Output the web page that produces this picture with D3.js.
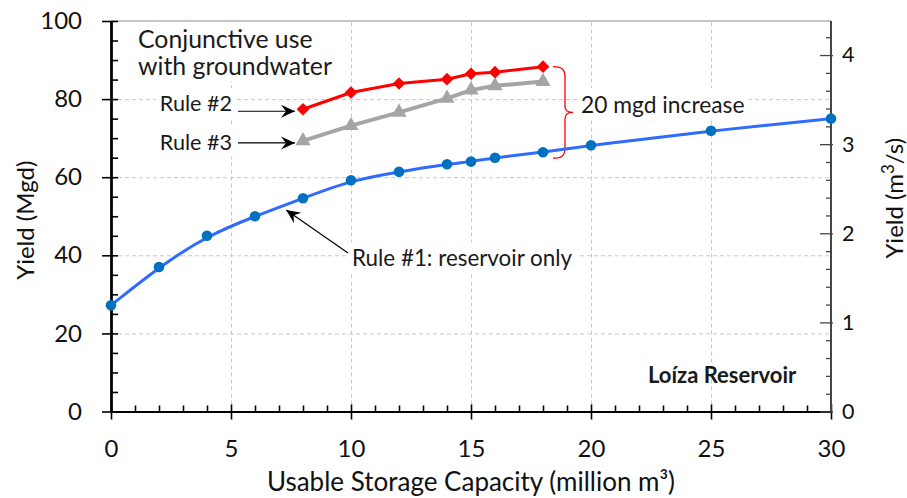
<!DOCTYPE html>
<html>
<head>
<meta charset="utf-8">
<script src="https://cdn.jsdelivr.net/npm/d3@7"></script>
<style>
  body { margin: 0; background: #fff; }
  svg { display: block; font-family: Lato, sans-serif; }
</style>
</head>
<body>
<svg id="chart" width="907" height="498"></svg>
<script>
// data
const capacity = [0, 2, 4, 6, 8, 10, 12, 14, 15, 16, 18, 20, 25, 30];
const rule1Yield = [27.2, 37.0, 45.0, 50.0, 54.6, 59.2, 61.4, 63.3, 64.0, 65.0, 66.4, 68.2, 71.9, 75.0];
const conjCapacity = [8, 10, 12, 14, 15, 16, 18];
const rule2Yield = [77.4, 81.7, 84.0, 85.1, 86.5, 86.9, 88.3];
const rule3Yield = [69.3, 73.2, 76.6, 80.2, 82.3, 83.4, 84.5];
const xTicks = [0, 5, 10, 15, 20, 25, 30];
const yTicks = [0, 20, 40, 60, 80, 100];
const yRightTicks = [0, 1, 2, 3, 4];
const MGD_PER_CMS = 22.82;

const svg = d3.select("#chart");
const plotLeft = 111, plotRight = 831, plotTop = 21, plotBottom = 411.5;

const x = d3.scaleLinear().domain([0, 30]).range([plotLeft, plotRight]);
const y = d3.scaleLinear().domain([0, 100]).range([plotBottom, plotTop]);
const yR = d3.scaleLinear().domain([0, 100 / MGD_PER_CMS]).range([plotBottom, plotTop]);

const xMinor = d3.range(0, 31).filter(v => v % 5 !== 0);
const yMinor = d3.range(0, 101, 5).filter(v => v % 20 !== 0);
const yRMinor = d3.range(0, 4.4, 0.2).filter(v => Math.abs(v - Math.round(v)) > 0.01);

// gridlines
const grid = svg.append("g").attr("class", "grid");
grid.append("g")
    .attr("transform", `translate(0,${plotBottom})`)
    .call(d3.axisBottom(x).tickValues([5, 10, 15, 20, 25]).tickSize(-(plotBottom - plotTop)).tickFormat(""));
grid.append("g")
    .attr("transform", `translate(${plotLeft},0)`)
    .call(d3.axisLeft(y).tickValues([20, 40, 60, 80]).tickSize(-(plotRight - plotLeft)).tickFormat(""));
grid.selectAll(".domain").remove();
grid.selectAll("line")
    .attr("stroke", "#c8c8c8")
    .attr("stroke-width", 1)
    .attr("stroke-dasharray", "4,3");

// top frame
svg.append("line")
    .attr("x1", plotLeft).attr("x2", plotRight)
    .attr("y1", y(100)).attr("y2", y(100))
    .attr("stroke", "#8c8c8c").attr("stroke-width", 1.2);

// arrow marker
const defs = svg.append("defs");
defs.append("marker")
    .attr("id", "arrow")
    .attr("viewBox", "-14 -7 16 14")
    .attr("refX", 0).attr("refY", 0)
    .attr("markerWidth", 16).attr("markerHeight", 14)
    .attr("markerUnits", "userSpaceOnUse")
    .attr("orient", "auto")
    .append("path")
    .attr("d", "M0,0 L-14,-6.5 L-9,0 L-14,6.5 Z")
    .attr("fill", "#000");

// text label with white box behind it (hides the gridlines like the original)
function label(g, tx, ty, lines, opts) {
    const t = g.append("text")
        .attr("x", tx).attr("y", ty)
        .attr("font-size", opts.size)
        .attr("font-weight", opts.weight || "normal")
        .attr("text-anchor", opts.anchor || "start")
        .attr("fill", "#1a1a1a");
    lines.forEach((s, i) => {
        t.append("tspan").attr("x", tx).attr("dy", i === 0 ? 0 : opts.lineHeight).text(s);
    });
    if (opts.box) {
        const b = t.node().getBBox();
        g.insert("rect", "text")
            .attr("x", b.x - 4).attr("y", b.y - 2)
            .attr("width", b.width + 8).attr("height", b.height + 4)
            .attr("fill", "#fff");
    }
    return t;
}

const notes = svg.append("g");
label(notes.append("g"), 138, 48, ["Conjunctive use", "with groundwater"], { size: 24.8, lineHeight: 26.5, box: true });
label(notes.append("g"), 232, 111, ["Rule #2"], { size: 21.6, anchor: "end", box: true });
label(notes.append("g"), 232, 150, ["Rule #3"], { size: 21.6, anchor: "end", box: true });
label(notes.append("g"), 352, 266, ["Rule #1: reservoir only"], { size: 22.4, box: true });
label(notes.append("g"), 581, 113, ["20 mgd increase"], { size: 22.8, box: true });
label(notes.append("g"), 648, 383, ["Loíza Reservoir"], { size: 22, weight: "bold" });

// arrows
const arrows = [
    [238, y(rule2Yield[0]) + 2, x(conjCapacity[0]) - 8, y(rule2Yield[0]) + 2],
    [238, y(rule3Yield[0]) + 2, x(conjCapacity[0]) - 8, y(rule3Yield[0]) + 2],
    [348, 253, x(7.3), y(51.6)]
];
svg.append("g").selectAll("line").data(arrows).join("line")
    .attr("x1", d => d[0]).attr("y1", d => d[1])
    .attr("x2", d => d[2]).attr("y2", d => d[3])
    .attr("stroke", "#000").attr("stroke-width", 1.2)
    .attr("marker-end", "url(#arrow)");

// red brace between rule #2 and rule #1 at 18 million m3
const bx = x(18) + 10, bTop = y(rule2Yield[6]), bBot = y(rule1Yield[10]) + 6, bMid = (bTop + bBot) / 2;
svg.append("path")
    .attr("d", `M${bx},${bTop} C${bx + 8},${bTop} ${bx + 12},${bTop + 2} ${bx + 12},${bTop + 10}
                L${bx + 12},${bMid - 6} C${bx + 12},${bMid - 2} ${bx + 15},${bMid} ${bx + 20},${bMid}
                C${bx + 15},${bMid} ${bx + 12},${bMid + 2} ${bx + 12},${bMid + 6}
                L${bx + 12},${bBot - 10} C${bx + 12},${bBot - 2} ${bx + 8},${bBot} ${bx},${bBot}`)
    .attr("fill", "none").attr("stroke", "#ff0000").attr("stroke-width", 1.3);

// axes
function styleAxis(g, color, width) {
    g.selectAll(".domain").attr("stroke", color).attr("stroke-width", width);
    g.selectAll(".tick line").attr("stroke", color).attr("stroke-width", width * 0.8);
    g.selectAll("text").attr("fill", "#111").attr("font-family", "Lato, sans-serif");
}

// left axis
const gL = svg.append("g").attr("transform", `translate(${plotLeft},0)`);
gL.append("g").call(d3.axisRight(y).tickValues(yMinor).tickSize(7).tickFormat("").tickSizeOuter(0)).call(styleAxis, "#000", 2);
gL.append("g").call(d3.axisRight(y).tickValues(yTicks).tickSize(7).tickFormat("").tickSizeOuter(0)).call(styleAxis, "#000", 2);
gL.append("g").call(d3.axisLeft(y).tickValues(yTicks).tickSize(9).tickPadding(20).tickSizeOuter(0))
    .call(styleAxis, "#000", 2)
    .selectAll("text").attr("font-size", 24);

// bottom axis
const gB = svg.append("g").attr("transform", `translate(0,${plotBottom})`);
gB.append("g").call(d3.axisTop(x).tickValues(xMinor).tickSize(6).tickFormat("").tickSizeOuter(0)).call(styleAxis, "#000", 2);
gB.append("g").call(d3.axisTop(x).tickValues(xTicks).tickSize(7).tickFormat("").tickSizeOuter(0)).call(styleAxis, "#000", 2);
gB.append("g").call(d3.axisBottom(x).tickValues(xTicks).tickSize(8).tickPadding(20).tickSizeOuter(0))
    .call(styleAxis, "#000", 2)
    .selectAll("text").attr("font-size", 24);

// right axis (m3/s)
const gR = svg.append("g").attr("transform", `translate(${plotRight},0)`);
gR.append("g").call(d3.axisLeft(yR).tickValues(yRMinor).tickSize(5).tickFormat("").tickSizeOuter(0)).call(styleAxis, "#444", 1.6);
gR.append("g").call(d3.axisLeft(yR).tickValues(yRightTicks).tickSize(11).tickFormat("").tickSizeOuter(0)).call(styleAxis, "#444", 1.6);
gR.append("g").call(d3.axisRight(yR).tickValues(yRightTicks).tickFormat(d3.format("d")).tickSize(2).tickPadding(9).tickSizeOuter(0))
    .call(styleAxis, "#444", 1.6)
    .selectAll("text").attr("font-size", 21.5);
gR.selectAll(".domain").attr("d", `M0,${plotTop}V${plotBottom}`);

// axis titles
svg.append("text")
    .attr("x", x(15)).attr("y", 491)
    .attr("text-anchor", "middle").attr("font-size", 26).attr("fill", "#111")
    .text("Usable Storage Capacity (million m³)");
svg.append("text")
    .attr("transform", `translate(34,${(plotTop + plotBottom) / 2 + 4}) rotate(-90)`)
    .attr("text-anchor", "middle").attr("font-size", 24).attr("fill", "#111")
    .text("Yield (Mgd)");
const rt = svg.append("text")
    .attr("transform", `translate(903,${(plotTop + plotBottom) / 2 - 18}) rotate(-90)`)
    .attr("text-anchor", "middle").attr("font-size", 24).attr("fill", "#111");
rt.append("tspan").text("Yield (m");
rt.append("tspan").attr("dy", -9).attr("font-size", 17).text("3");
rt.append("tspan").attr("dy", 9).text("/s)");

// series
const series = svg.append("g");
const line = d3.line().x(d => x(d[0])).y(d => y(d[1]));

const rule1 = d3.zip(capacity, rule1Yield);
const rule2 = d3.zip(conjCapacity, rule2Yield);
const rule3 = d3.zip(conjCapacity, rule3Yield);

series.append("path")
    .datum(rule3)
    .attr("d", line)
    .attr("fill", "none").attr("stroke", "#a5a5a5").attr("stroke-width", 4);
series.append("g").selectAll("path").data(rule3).join("path")
    .attr("transform", d => `translate(${x(d[0])},${y(d[1])})`)
    .attr("d", d3.symbol(d3.symbolTriangle, 100))
    .attr("fill", "#a5a5a5");

series.append("path")
    .datum(rule2)
    .attr("d", line)
    .attr("fill", "none").attr("stroke", "#ff0000").attr("stroke-width", 3);
series.append("g").selectAll("path").data(rule2).join("path")
    .attr("transform", d => `translate(${x(d[0])},${y(d[1])}) rotate(45)`)
    .attr("d", d3.symbol(d3.symbolSquare, 80))
    .attr("fill", "#ff0000");

series.append("path")
    .datum(rule1)
    .attr("d", line.curve(d3.curveBasis))
    .attr("fill", "none").attr("stroke", "#2f6bff").attr("stroke-width", 3);
series.append("g").selectAll("circle").data(rule1).join("circle")
    .attr("cx", d => x(d[0])).attr("cy", d => y(d[1]))
    .attr("r", 5.3)
    .attr("fill", "#0070c0");
</script>
</body>
</html>
